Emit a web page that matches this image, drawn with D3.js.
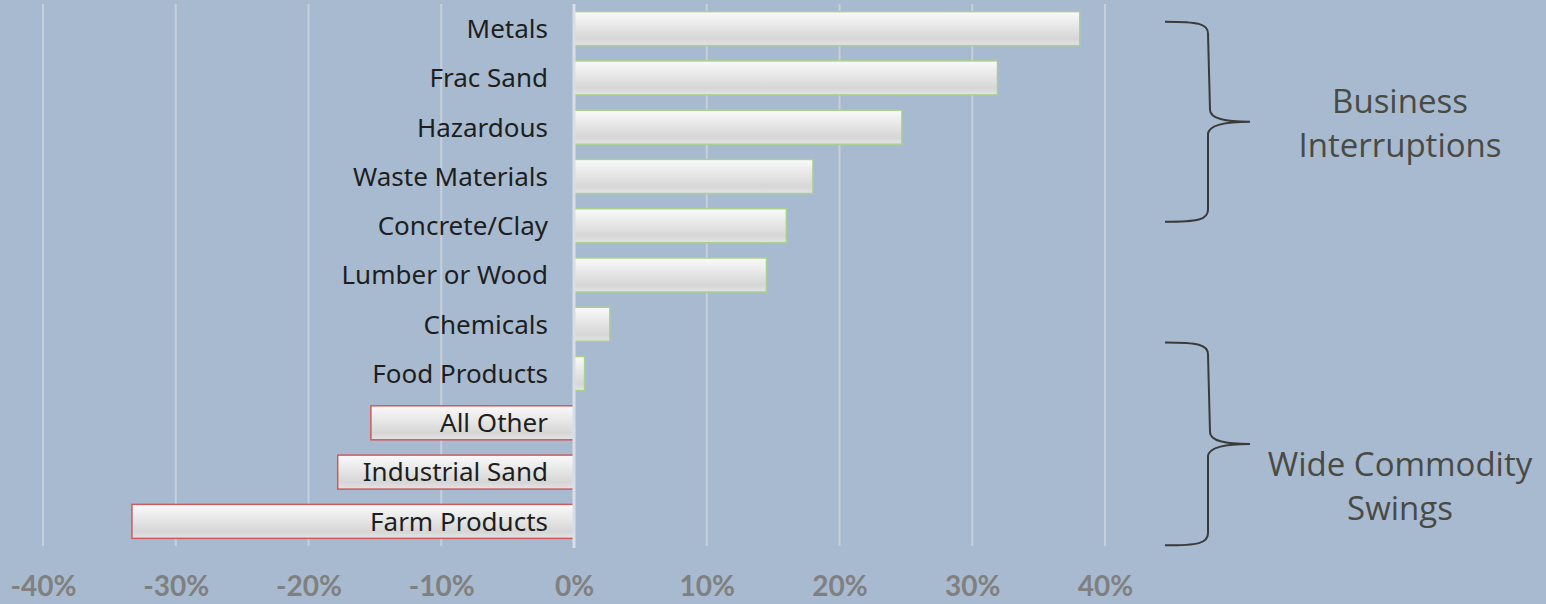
<!DOCTYPE html>
<html>
<head>
<meta charset="utf-8">
<script src="https://cdn.jsdelivr.net/npm/d3@7"></script>
<style>
  body { margin: 0; background: #a8bad0; }
  svg { display: block; }
</style>
</head>
<body>
<div class="chart"></div>
<script>
// categories, top to bottom
const categories = ["Metals", "Frac Sand", "Hazardous", "Waste Materials", "Concrete/Clay",
  "Lumber or Wood", "Chemicals", "Food Products", "All Other", "Industrial Sand", "Farm Products"]

// percent change
const changes = [0.381, 0.319, 0.247, 0.180, 0.160, 0.145, 0.027, 0.008, -0.153, -0.178, -0.333]

// tick values for the x axis
const ticks = [-0.4, -0.3, -0.2, -0.1, 0, 0.1, 0.2, 0.3, 0.4]

// brace annotations: first and last category covered, text lines
const braceFrom = ["Metals", "Food Products"]
const braceTo = ["Concrete/Clay", "Farm Products"]
const braceText = [["Business", "Interruptions"], ["Wide Commodity", "Swings"]]

const width = 1546
const height = 604

const svg = d3.select(".chart")
  .append("svg")
  .attr("width", width)
  .attr("height", height)

svg.append("rect")
  .attr("width", width)
  .attr("height", height)
  .attr("fill", "#a8bad0")

// scales
const xScale = d3.scaleLinear()
  .domain([-0.4, 0.4])
  .range([43, 1105])

const yScale = d3.scaleBand()
  .domain(categories)
  .range([4, 546])
  .paddingInner(0.31)
  .paddingOuter(0.155)

// bar gradient
const defs = svg.append("defs")
const grad = defs.append("linearGradient")
  .attr("id", "barGrad")
  .attr("x1", 0).attr("y1", 0)
  .attr("x2", 0).attr("y2", 1)
grad.append("stop").attr("offset", "0%").attr("stop-color", "#fafafa")
grad.append("stop").attr("offset", "45%").attr("stop-color", "#e6e6e6")
grad.append("stop").attr("offset", "80%").attr("stop-color", "#d6d6d6")
grad.append("stop").attr("offset", "100%").attr("stop-color", "#e4e4e4")

// gridlines
svg.append("g")
  .selectAll("line")
  .data(ticks.filter((d) => d !== 0))
  .enter()
  .append("line")
  .attr("x1", (d) => xScale(d))
  .attr("x2", (d) => xScale(d))
  .attr("y1", 4)
  .attr("y2", 546)
  .attr("stroke", "#c6d0dc")
  .attr("stroke-width", 2)

const data = categories.map((c, i) => [c, changes[i]])

// bars
svg.append("g")
  .selectAll("rect")
  .data(data)
  .enter()
  .append("rect")
  .attr("x", (d) => xScale(Math.min(0, d[1])))
  .attr("y", (d) => yScale(d[0]))
  .attr("width", (d) => Math.abs(xScale(d[1]) - xScale(0)))
  .attr("height", yScale.bandwidth())
  .attr("fill", "url(#barGrad)")
  .attr("stroke", (d) => d[1] >= 0 ? "#a9d18e" : "#cf5a5e")
  .attr("stroke-width", 1.5)

// zero line
svg.append("line")
  .attr("x1", xScale(0))
  .attr("x2", xScale(0))
  .attr("y1", 4)
  .attr("y2", 548)
  .attr("stroke", "#d9dee6")
  .attr("stroke-width", 3)

// category labels
svg.append("g")
  .selectAll("text")
  .data(categories)
  .enter()
  .append("text")
  .attr("x", 548)
  .attr("y", (d) => yScale(d) + yScale.bandwidth() / 2)
  .attr("dy", "0.36em")
  .attr("text-anchor", "end")
  .attr("font-family", "'Noto Sans', sans-serif")
  .attr("font-size", 26)
  .attr("fill", "#1e1e1e")
  .text((d) => d)

// x-axis, plain hyphen for negatives like the original
const xAxis = d3.axisBottom(xScale)
  .tickValues(ticks)
  .tickSize(0)
  .tickFormat((d) => Math.round(d * 100) + "%")

const axisG = svg.append("g")
  .attr("transform", "translate(0, 573)")
  .call(xAxis)
axisG.select(".domain").remove()
axisG.selectAll("text")
  .attr("font-family", "Lato, sans-serif")
  .attr("font-weight", "bold")
  .attr("font-size", 28)
  .attr("fill", "#808080")

// braces + annotation text (offsets from the covered bars)
const braceTop = [10, -14]
const braceBottom = [-21, 7]
const textShift = [2, 42]

braceFrom.forEach((from, k) => {
  const top = yScale(from) + braceTop[k]
  const bottom = yScale(braceTo[k]) + yScale.bandwidth() + braceBottom[k]
  const mid = (top + bottom) / 2
  const x0 = 1165
  const x1 = 1208
  const tip = 1250
  const p = d3.path()
  p.moveTo(x0, top)
  p.bezierCurveTo(x1 - 10, top, x1, top + 2, x1, top + 12)
  p.lineTo(x1 + 2, mid - 12)
  p.bezierCurveTo(x1 + 2, mid - 3, tip - 25, mid, tip, mid)
  p.bezierCurveTo(tip - 25, mid, x1 + 1, mid + 3, x1, mid + 12)
  p.lineTo(x1, bottom - 12)
  p.bezierCurveTo(x1, bottom - 2, x1 - 10, bottom, x0, bottom)
  svg.append("path")
    .attr("d", p.toString())
    .attr("fill", "none")
    .attr("stroke", "#3a3a3a")
    .attr("stroke-width", 2)

  svg.append("g")
    .selectAll("text")
    .data(braceText[k])
    .enter()
    .append("text")
    .attr("x", 1400)
    .attr("y", (d, i) => mid + textShift[k] - 22 + i * 44)
    .attr("dy", "0.35em")
    .attr("text-anchor", "middle")
    .attr("font-family", "'Open Sans', sans-serif")
    .attr("font-weight", 500)
    .attr("font-size", 33)
    .attr("fill", "#4a4a45")
    .text((d) => d)
})
</script>
</body>
</html>
